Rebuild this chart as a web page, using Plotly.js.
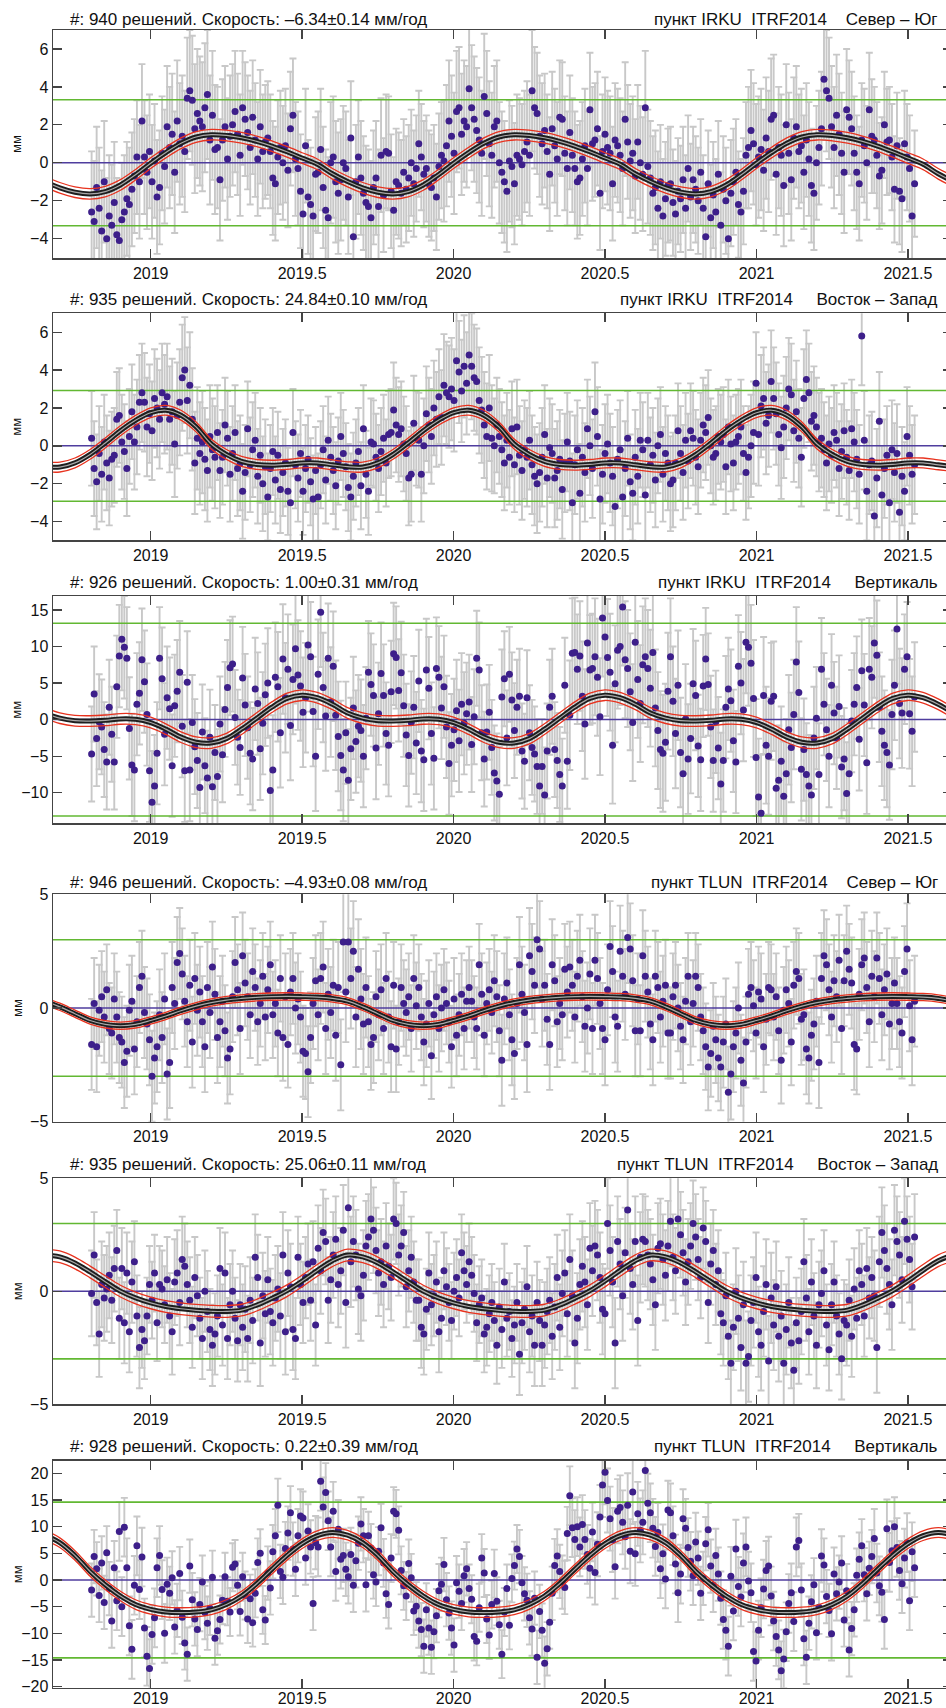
<!DOCTYPE html>
<html>
<head>
<meta charset="utf-8">
<script src="https://cdn.plot.ly/plotly-3.0.1.min.js"></script>
<style>
html,body{margin:0;padding:0;background:#fff;overflow:hidden;}
#chart{width:952px;height:1708px;}
</style>
</head>
<body>
<div id="chart"></div>
<script>
// ---------------- DATA ----------------
const yearTicks = [2019, 2019.5, 2020, 2020.5, 2021, 2021.5];
const yearTickText = ['2019', '2019.5', '2020', '2020.5', '2021', '2021.5'];

// observation epochs: first and last daily solution (decimal years); samples equally spaced
const obsStart = 2018.805, obsEnd = 2021.522;
// error arrays are per calendar month starting at this epoch
const errMonthStart = 2018.80;
// model curves sampled every 0.05 yr starting at
const modelStart = 2018.65, modelStep = 0.05;

const leftTitles = [
  '#: 940 решений. Скорость: –6.34±0.14 мм/год',
  '#: 935 решений. Скорость: 24.84±0.10 мм/год',
  '#: 926 решений. Скорость: 1.00±0.31 мм/год',
  '#: 946 решений. Скорость: –4.93±0.08 мм/год',
  '#: 935 решений. Скорость: 25.06±0.11 мм/год',
  '#: 928 решений. Скорость: 0.22±0.39 мм/год'
];
const rightTitles = [
  'пункт IRKU\u00A0\u00A0ITRF2014\u00A0\u00A0\u00A0 Север – Юг',
  'пункт IRKU\u00A0\u00A0ITRF2014\u00A0\u00A0\u00A0\u00A0 Восток – Запад',
  'пункт IRKU\u00A0\u00A0ITRF2014\u00A0\u00A0\u00A0\u00A0 Вертикаль',
  'пункт TLUN\u00A0\u00A0ITRF2014\u00A0\u00A0\u00A0 Север – Юг',
  'пункт TLUN\u00A0\u00A0ITRF2014\u00A0\u00A0\u00A0\u00A0 Восток – Запад',
  'пункт TLUN\u00A0\u00A0ITRF2014\u00A0\u00A0\u00A0\u00A0 Вертикаль'
];
const yUnit = 'мм';

// residuals, mm
const irkuNS = [
-2.6,-3.1,-1.3,-2.4,-3.6,-1.0,-4.0,-2.8,-3.3,-2.1,
-3.8,-4.1,-3.0,-2.6,-1.9,-2.2,-1.4,-0.7,0.3,-1.0,
2.2,0.3,-0.5,0.6,-1.0,0.1,-1.8,-1.3,0.5,-0.2,
1.9,0.8,1.5,-0.5,2.2,1.0,1.4,0.6,3.4,3.8,
3.3,1.8,2.6,2.2,1.9,2.9,3.6,1.2,2.5,0.7,
0.8,-0.9,1.2,1.9,0.2,1.4,2.0,2.7,1.5,0.4,
2.9,2.3,1.6,0.8,2.4,1.2,0.2,1.9,0.6,1.1,
1.3,0.6,-0.8,-1.1,0.3,0.8,0.0,0.9,-0.4,1.8,
2.5,0.2,-0.3,-1.5,-2.7,0.9,-1.8,-2.2,-2.8,-0.6,
-0.5,0.7,-1.3,-2.5,-2.9,0.0,0.3,-1.0,-1.6,-0.9,
0.0,-0.3,-1.8,1.3,-3.9,-1.0,0.3,-0.8,-1.6,-2.1,
-2.3,-2.9,-1.3,-0.8,-2.3,0.4,-1.7,0.6,0.5,-1.5,
-2.5,-1.0,-1.2,-1.6,-0.5,-1.4,-0.8,0.0,-1.1,-0.3,
1.0,0.3,-0.6,-0.3,-1.1,-1.3,-0.8,-1.8,-0.2,0.4,
0.1,0.9,2.2,1.4,0.5,2.7,2.9,1.5,2.2,1.9,
3.9,2.9,2.3,1.7,1.2,0.5,3.5,2.6,1.0,0.4,
1.9,2.2,0.0,-0.5,-1.0,-1.5,0.1,-0.2,-1.1,0.4,
0.2,-0.1,0.6,1.1,0.4,3.8,2.9,2.6,1.4,1.0,
1.7,0.6,-0.6,1.8,0.9,0.2,2.4,2.3,0.5,-0.3,
1.6,0.4,-0.3,-1.0,-0.8,0.2,0.9,-0.3,2.8,1.0,
1.2,1.8,-1.6,0.6,1.5,0.8,0.5,-1.1,1.2,0.9,
0.4,-0.3,2.3,1.1,0.1,0.5,-0.7,1.1,0.0,-0.6,
2.9,-0.2,-0.8,-1.6,-1.3,-2.4,-1.0,-2.8,-1.9,-1.2,
-1.1,-2.1,-2.7,-1.5,-1.9,-0.9,-2.4,-0.3,-1.8,-0.9,
-1.4,-2.0,-0.5,-2.4,-3.9,-1.1,-2.9,-1.7,-2.6,-0.6,
-3.3,-1.4,-2.0,-4.0,-1.6,-1.0,-0.5,-2.2,-2.6,-1.5,
0.4,0.8,1.7,1.0,-0.1,0.3,0.7,-0.4,1.3,0.6,
2.3,2.5,-0.6,0.8,0.4,-1.2,2.0,0.5,-0.9,1.3,
1.9,0.6,0.9,-0.5,1.2,0.2,-1.2,-1.6,0.0,0.8,
1.8,4.4,3.8,3.4,1.9,0.8,2.5,1.5,0.5,-0.5,
2.8,2.4,1.8,0.5,-0.5,-1.1,1.2,0.9,0.0,2.8,
1.4,1.2,0.4,-0.7,-0.4,2.0,1.1,1.2,0.3,-1.4,
0.9,-1.5,-1.9,1.0,0.3,-0.3,-2.8,-1.1];
const irkuEW = [
0.4,-1.2,-1.9,-0.4,-1.5,0.2,-0.9,-1.7,-0.7,-0.5,
1.4,1.6,0.2,-0.3,-1.2,0.5,1.8,0.2,1.0,2.3,
2.8,2.3,1.0,1.7,0.8,2.5,2.0,1.4,2.8,2.2,
2.6,1.4,1.8,0.1,1.6,2.3,3.6,4.0,2.4,3.2,
1.4,-0.9,0.4,-0.4,0.2,-0.7,-1.3,0.5,-0.2,-0.6,
0.7,-1.3,-0.6,1.1,0.4,-1.5,-0.4,0.7,-1.2,-0.9,
-2.4,-1.4,0.9,-1.0,-0.2,0.3,-1.6,-0.5,-2.0,-1.1,
-2.7,-1.2,-0.3,-1.8,-0.5,-2.3,-1.4,-0.9,-2.4,-3.0,
0.7,-1.0,-1.7,-0.4,-2.4,-1.2,-0.7,-1.9,-2.8,-1.3,
-2.7,-1.0,-0.2,-1.8,0.3,-0.6,-1.3,-2.1,-0.8,0.5,
-0.4,-1.1,-2.2,-2.7,-1.6,-0.9,-0.3,-2.1,0.9,-1.5,
-2.4,0.2,0.1,-0.6,-1.2,-0.3,0.4,-0.9,0.6,0.7,
1.9,1.1,0.6,0.9,0.1,-0.4,-1.7,-1.5,1.2,0.4,
0.3,-1.5,0.0,1.7,1.1,0.5,2.0,1.4,2.6,1.5,
3.2,2.8,2.6,3.0,2.4,4.5,3.9,2.9,4.2,3.3,
4.8,4.2,3.6,3.4,2.4,1.9,1.1,0.5,2.0,0.4,
0.0,1.1,0.5,-0.2,-0.9,0.3,-0.6,0.9,-1.0,1.0,
-0.5,-1.3,-0.2,-0.6,0.3,-1.0,-1.6,-2.0,-1.4,-0.6,
0.6,-1.7,-0.1,-0.4,-1.7,-1.3,-0.7,-2.3,-0.9,0.2,
-0.8,-3.0,-1.0,-0.2,-2.5,-0.6,-1.4,0.9,0.0,-1.2,
1.8,0.5,-2.8,-1.5,-0.4,0.1,-0.9,-1.6,-3.2,-0.7,
-0.2,-2.7,-1.2,0.4,-1.9,-2.5,-0.6,-1.6,0.3,-0.2,
-2.6,0.3,-1.0,-0.5,-1.8,0.0,0.6,-1.5,-0.4,-0.9,
-2.0,-1.8,-0.9,0.8,-0.4,-1.4,0.3,-0.8,0.8,0.4,
-0.6,-1.1,0.3,1.1,0.7,1.5,0.0,-0.6,-0.4,0.5,
0.2,0.6,-1.1,1.0,0.1,-0.9,0.2,0.5,1.0,-0.4,
-1.4,-0.6,0.0,0.7,3.3,0.6,2.1,2.5,1.2,1.6,
3.4,2.5,1.7,0.6,-0.1,1.0,2.0,3.0,2.7,0.8,
1.8,0.4,-0.6,2.5,3.5,2.8,1.3,1.6,1.0,0.2,
0.4,-0.2,-0.9,0.1,-0.5,0.7,0.3,-1.2,-0.3,0.8,
-0.6,-1.3,0.9,0.2,-0.7,-1.5,5.8,0.3,-2.4,-1.0,
-0.8,-3.7,-1.7,1.3,-2.6,-1.2,-0.5,-3.0,-0.2,-1.4,
-0.4,-3.5,-1.6,-2.4,0.5,-0.5,-1.5,-1.0];
const irkuUp = [
-4.7,3.5,-2.6,-0.3,-1.0,-4.1,-5.8,1.7,-2.0,-5.8,
4.5,8.7,11.0,9.9,8.4,-1.2,-6.2,-6.9,2.1,3.6,
8.2,5.2,0.7,-7.0,-11.3,-9.1,-4.6,8.4,5.6,-2.0,
3.0,1.5,-6.3,1.9,3.9,6.5,-0.9,-7.0,5.1,-6.9,
-0.4,-3.7,-5.6,-9.3,-1.7,-6.3,-8.0,-2.4,-9.2,-4.5,
-7.8,-0.6,-4.8,1.4,4.4,7.1,7.6,0.3,-2.4,-3.8,
5.7,2.0,-1.1,-4.6,-5.4,4.2,2.2,-4.0,-0.5,3.4,
5.0,-9.7,-6.9,5.8,4.5,-1.8,8.3,3.0,6.9,-0.8,
5.5,9.7,6.1,4.6,1.0,3.0,10.2,8.6,1.1,-5.0,
6.2,14.7,4.4,0.5,8.4,2.4,7.3,0.6,-2.3,-4.9,
-6.9,-1.8,-8.3,-4.0,1.6,-3.0,-0.9,-1.5,-5.0,0.2,
6.5,4.8,3.3,-3.9,0.8,6.3,3.3,-1.9,-3.5,3.8,
9.0,8.5,4.0,6.4,1.9,-2.1,-4.9,-0.4,1.7,-3.2,
5.3,-4.3,-5.5,6.8,4.3,-1.9,-5.3,7.0,5.8,1.6,
4.5,-1.0,-6.0,-3.5,-1.4,1.2,-2.9,2.1,-0.5,0.8,
2.4,-3.4,0.4,8.4,6.8,-1.8,-5.4,-1.7,1.0,-3.8,
-7.3,-8.4,-10.2,3.1,5.6,-2.5,6.2,2.7,-1.5,1.7,
3.2,-4.3,-5.7,3.0,-1.8,-3.8,-4.7,-6.4,-9.1,-6.4,
-10.3,-4.3,1.7,3.2,-4.1,-5.6,-7.5,-9.1,4.7,-5.7,
0.6,9.1,9.2,6.9,8.7,3.2,-0.6,10.5,6.8,7.0,
8.6,5.8,0.4,13.9,11.3,8.5,6.5,-3.5,4.9,9.5,
10.0,15.4,8.2,7.0,3.8,-0.4,10.6,5.5,2.2,7.5,
8.6,7.0,4.3,9.2,1.6,-1.5,-4.1,-4.6,-3.1,3.9,
8.6,2.5,-1.9,4.7,-4.5,-7.4,0.1,-5.4,-2.6,4.9,
3.3,-3.6,-5.5,4.6,8.3,4.8,-1.0,-5.6,-0.3,-3.9,
-8.8,-5.6,1.7,4.2,2.6,-2.9,-5.8,7.3,5.0,1.3,
10.6,9.9,7.7,2.9,-5.2,-10.6,-12.8,3.3,-3.5,-5.0,
2.5,3.2,-9.4,-8.3,-5.7,-10.5,-7.4,-1.4,-3.8,0.7,
7.9,3.7,-6.8,-4.1,-7.5,-9.1,-10.3,-2.5,0.2,-7.5,
6.9,2.1,-1.4,-5.0,4.7,0.9,-2.5,1.8,-6.5,-5.4,
-10.1,-7.4,-0.2,2.1,4.4,-2.7,6.7,2.0,-5.9,6.9,
5.8,10.5,8.8,1.7,-1.6,-3.5,-4.5,-6.2,0.7,4.7,
12.4,2.2,0.9,6.9,8.6,0.8,-1.6,3.1];
const tlunNS = [
-1.6,0.2,-1.7,-0.1,0.5,-0.4,0.8,-0.9,-1.1,0.4,
-0.4,-1.3,-1.5,-2.4,-1.9,-0.1,0.3,-1.8,-0.6,0.9,
1.4,-0.2,-0.7,-1.4,-3.0,-2.2,-1.7,-0.3,-1.3,0.4,
-2.9,-2.4,0.9,0.2,2.0,2.4,1.5,0.3,-0.6,1.0,
-1.5,1.3,-0.1,0.7,-0.6,-1.7,0.9,-0.2,1.8,0.6,
-1.3,-0.6,0.3,-1.0,-2.2,-1.8,0.5,2.0,0.8,-0.9,
2.3,1.1,0.5,-0.3,1.6,0.9,-0.6,0.2,1.4,-0.4,
0.8,1.9,-0.3,0.2,-1.1,1.3,-1.3,0.5,-1.6,0.7,
1.3,0.0,0.4,-0.4,-1.9,-2.0,-2.8,-1.3,0.2,1.2,
-0.3,1.3,1.8,-0.9,0.6,-0.2,1.0,-1.2,0.9,-2.5,
2.9,0.7,2.9,1.3,2.5,-0.4,1.7,0.4,-0.7,0.9,
-0.6,-1.6,-1.3,0.5,-0.3,0.8,-0.9,1.3,-0.4,-1.7,
1.0,-1.8,-0.6,0.9,0.2,-0.2,0.5,-0.9,1.3,0.1,
0.9,-0.4,-1.5,-0.7,0.2,-2.1,-0.3,0.5,-0.9,0.0,
0.8,0.2,-0.6,-1.7,0.4,-1.2,-0.3,0.6,-0.9,0.3,
0.9,0.3,-0.4,-0.9,1.9,0.6,-1.2,0.2,0.8,-0.2,
1.2,0.5,-1.0,-2.3,0.4,1.1,-0.3,-1.4,-2.0,0.2,
1.9,0.6,-0.2,-1.6,2.3,1.6,1.0,3.0,2.6,0.4,
1.0,-0.5,-1.6,1.9,1.2,-0.6,0.2,-0.3,1.7,0.7,
1.8,1.0,-0.4,1.4,2.1,0.5,-0.8,0.0,1.5,-0.9,
2.1,1.3,0.2,-0.9,-1.4,0.8,2.7,1.6,-0.4,-0.8,
2.5,1.4,0.6,3.1,2.6,1.2,-1.0,0.4,-1.0,2.3,
1.4,0.7,-0.7,-1.4,1.4,0.9,-0.4,0.3,1.0,-1.1,
-1.1,0.5,1.0,0.0,-0.8,-1.4,0.3,1.4,-0.6,0.2,
1.4,0.9,-0.4,-1.0,-1.7,-2.6,-2.0,-0.8,-1.4,-2.2,
-2.6,-1.5,-0.7,-3.7,-2.9,-1.7,-1.1,0.0,-2.3,-3.3,
-1.5,0.6,0.9,0.1,-1.1,0.7,0.4,-1.7,-0.5,0.9,
0.8,-0.4,0.5,-1.0,-2.3,-0.1,0.8,0.2,-1.5,1.0,
1.6,1.3,-0.5,-0.3,-1.8,-2.2,-1.2,-0.7,0.3,-2.4,
1.3,2.3,1.9,0.8,-0.4,1.2,0.5,2.1,-0.9,1.2,
2.5,1.7,1.1,-1.6,-1.8,0.6,1.9,2.2,0.9,-0.6,
1.4,0.5,2.2,1.3,-0.3,0.8,1.5,-0.7,0.2,1.1,
0.2,-0.6,-1.1,1.6,2.6,0.1,-1.4,0.3];
const tlunEW = [
-0.1,1.6,-0.5,-1.9,0.3,-0.3,0.1,0.7,-0.4,1.0,
1.8,-1.2,1.0,-1.4,0.8,-1.8,0.4,1.3,-1.1,-2.5,
-1.7,-2.2,-1.1,0.3,-0.4,0.8,-1.4,0.3,0.1,-0.6,
0.5,-1.1,-1.8,0.4,0.8,-0.5,1.4,1.1,0.3,-0.4,
-1.6,0.6,-0.2,-1.2,-2.1,0.0,-0.9,-1.7,-2.4,-1.9,
-1.1,1.0,-1.5,0.8,-2.1,-0.6,0.0,-1.2,-2.2,-0.6,
-1.6,-0.8,-2.1,-0.4,-1.3,1.5,0.6,-2.3,-0.2,-1.0,
0.5,-0.9,-1.4,-0.3,0.1,-1.1,1.6,-1.8,0.8,0.2,
-1.7,-2.1,1.5,0.3,-0.5,0.6,1.2,-0.4,1.3,-1.5,
1.9,0.9,2.6,2.2,-0.4,0.5,1.6,2.3,0.3,0.9,
2.7,-0.5,3.7,1.3,2.2,1.6,0.1,-0.2,0.7,2.0,
2.4,3.2,2.7,1.8,0.8,1.3,0.3,2.0,1.1,0.6,
3.2,3.0,1.6,2.0,2.6,0.2,0.9,1.5,0.4,-0.4,
-0.4,-1.6,-1.9,-0.8,0.8,-0.6,-0.2,0.4,-1.8,-1.2,
0.9,0.2,-0.5,-1.3,0.0,0.6,-0.3,1.7,0.9,0.3,
1.3,0.7,-0.1,-1.4,-0.6,-0.3,-1.9,-1.6,-1.0,-0.5,
-1.3,-2.4,-0.7,-1.7,0.4,-1.2,-0.9,-2.1,-1.5,-0.5,
-2.8,-1.4,-0.8,0.2,-1.8,-1.1,-2.4,-0.5,-1.3,-2.4,
-1.5,-0.9,-0.4,-2.0,-0.7,0.6,-1.6,-0.1,0.8,-1.0,
1.4,-0.2,-2.3,-1.2,0.3,1.1,0.4,-0.6,1.9,0.9,
2.0,1.6,0.6,-0.8,-1.0,3.0,1.8,0.4,-2.3,2.2,
1.2,-0.2,1.7,3.6,1.0,0.3,2.2,-1.3,1.5,2.3,
2.2,1.6,1.2,0.5,-0.6,1.9,2.1,1.4,0.7,2.0,
3.1,1.5,0.9,3.2,2.5,1.7,0.4,1.3,2.0,3.0,
2.4,1.4,0.6,2.8,2.2,-0.5,1.2,1.8,0.3,0.9,
-1.0,-1.4,-0.2,-2.0,-3.2,-1.6,0.0,-1.2,-2.5,-0.6,
-3.2,-2.9,-1.3,-0.5,0.6,-1.8,-2.4,-0.9,0.3,-3.1,
-0.3,-1.5,0.2,-2.0,-1.1,-3.2,-1.7,-0.5,-2.3,-3.5,
-1.4,-2.2,-0.9,1.3,-0.3,-1.8,0.4,-1.1,-2.4,-0.6,
-0.1,0.9,-1.5,-2.6,-0.6,0.4,-1.1,-1.9,-3.0,-1.3,
-1.5,-0.4,-2.0,0.1,-1.2,0.9,0.3,-1.1,1.0,-0.3,
0.6,-0.2,-2.5,1.3,2.6,1.8,1.0,0.3,-0.6,2.7,
2.2,1.6,0.5,3.1,2.3,1.4,0.2,2.4];
const tlunUp = [
-1.9,4.4,2.1,-2.9,3.2,-4.2,5.1,-1.6,-7.7,2.3,
-3.9,9.1,-5.0,9.9,2.3,-8.6,-13.0,-1.0,6.4,-1.8,
4.3,-9.0,-14.3,-16.6,-10.2,-7.1,2.3,4.6,-1.8,-10.0,
-0.8,-2.5,0.4,-8.8,-5.7,1.2,-7.0,-11.8,-13.9,2.6,
-3.7,-7.3,-9.3,-4.6,-0.4,-6.1,-8.1,-5.3,0.5,-10.9,
-9.5,-7.4,-3.8,0.6,-4.0,-6.0,2.4,3.0,-1.0,-5.9,
0.6,-2.9,-7.3,-3.5,-8.0,-2.5,3.3,5.0,-5.6,-7.5,
1.3,-1.5,5.3,8.3,14.0,1.6,0.5,5.9,8.8,12.6,
5.8,2.0,8.3,12.0,11.6,4.1,9.2,6.2,-4.4,7.0,
6.2,18.5,13.7,16.4,11.1,6.2,12.9,1.6,9.5,3.9,
4.6,2.0,0.6,4.8,-1.0,3.6,6.9,10.5,8.3,-0.9,
8.3,6.0,1.0,-0.4,5.4,9.8,3.2,-2.6,-4.6,4.1,
12.9,12.4,9.3,1.8,-1.1,-3.0,3.1,0.4,-5.8,-4.9,
-7.7,-9.3,-12.4,-5.6,-9.0,-12.6,-9.7,-6.7,-2.0,-0.8,
2.9,-3.7,-6.2,-9.0,-12.2,-0.5,-2.1,-4.4,0.8,2.1,
-1.6,-3.6,-10.6,-11.5,-5.2,4.1,1.3,-7.3,-10.3,-4.6,
1.2,-4.0,-8.4,-13.9,-6.0,-1.6,-8.5,0.3,2.7,5.8,
4.4,-0.5,-2.6,-3.8,-7.1,-9.2,-3.4,-14.5,-5.9,-9.4,
-15.6,-12.9,-7.9,-2.5,2.7,4.5,1.6,-0.4,-1.4,8.7,
15.8,9.8,7.6,10.0,6.2,10.4,7.6,4.8,2.2,9.0,
1.4,6.7,11.8,17.8,20.2,14.9,11.5,7.5,2.5,12.9,
13.6,10.8,8.1,14.0,5.4,16.5,4.9,12.4,9.3,10.8,
20.5,14.4,12.6,9.7,6.3,8.9,2.1,4.9,0.2,13.1,
12.6,8.3,3.0,-2.4,1.1,11.5,9.7,6.1,3.5,0.8,
7.1,4.1,-2.5,0.3,6.8,9.4,2.6,-1.0,4.6,1.1,
-3.4,-7.4,-9.4,-12.4,0.7,-5.8,5.8,-1.2,-3.2,3.2,
6.2,-0.2,-2.4,-13.4,-15.2,-9.4,-5.2,-1.7,1.8,2.6,
-3.0,-7.7,-10.6,-13.1,-17.0,-14.8,-9.7,-4.4,-2.4,-7.8,
6.2,7.4,-1.9,-11.0,-14.5,-8.1,-4.1,-0.9,-9.9,-5.1,
4.5,2.8,-3.1,-5.7,-10.1,1.1,-2.6,-0.4,3.2,-7.5,
-2.0,-13.1,-9.1,-5.6,0.9,3.9,6.4,1.0,-2.6,2.2,
4.4,7.8,1.3,-1.1,-2.3,-7.4,9.6,3.3,5.5,10.0,
6.1,1.8,-0.7,4.1,7.0,-3.9,5.3,2.3];

// error-bar half lengths, mm, per month (from 2018.80)
const irkuNSErr = [3.2,3.0,3.0,3.2,3.4,3.2,3.0,3.0,3.0,3.2,3.0,3.0,2.8,2.8,3.2,3.3,3.2,3.2,3.0,3.0,3.0,3.0,3.0,2.8,2.8,2.8,3.2,3.2,3.0,3.2,3.0,2.8,2.8];
const irkuEWErr = [2.5,2.5,2.6,2.8,2.7,2.5,2.5,2.3,2.3,2.3,2.3,2.3,2.5,2.5,2.7,2.8,2.5,2.6,2.6,2.6,2.6,2.5,2.5,2.5,2.5,2.5,2.7,2.7,2.6,2.5,2.6,2.6,2.6];
const irkuUpErr = [6.5,7,7,7,6.5,6.5,7,7.5,7.5,7.5,7,7,7,7,7,6.5,6.5,6.5,6.5,7.5,8,8,8,7.5,7,7,8,7.5,7,7,7,7.5,7.5];
const tlunNSErr = [2.0,2.0,2.0,2.0,2.0,2.0,1.9,1.9,2.0,2.0,2.2,2.0,1.9,1.9,1.8,1.8,2.0,2.1,2.0,2.0,2.0,2.0,2.0,1.9,1.9,2.0,2.0,1.9,2.0,2.0,2.0,2.0,2.0];
const tlunEWErr = [1.9,1.8,1.7,1.9,1.8,1.8,1.9,1.9,1.8,1.9,2.0,1.9,1.8,1.8,1.7,1.7,1.7,1.8,1.9,2.0,2.0,2.0,2.0,1.9,1.8,1.9,2.0,2.0,1.9,1.8,1.8,2.0,1.9];
const tlunUpErr = [5,5.5,5.5,5,5,4.5,4.5,5,5,5.5,5,4.5,4.5,5,5,4.5,4.5,5,5,5.5,6,6,5.5,5.5,5,5.5,5.5,5.5,5,5,5,5.5,5.5];

// seasonal model curves, mm (every 0.05 yr from 2018.65 to 2021.65)
const irkuNSModel = [
-0.99,-1.32,-1.55,-1.64,-1.52,-1.17,-0.63,
-0.02,0.54,1.03,1.36,1.48,1.44,1.32,1.13,0.88,0.58,0.25,-0.08,-0.58,-0.99,-1.32,-1.55,-1.64,-1.52,-1.17,-0.63,
-0.02,0.54,1.03,1.36,1.48,1.44,1.32,1.13,0.88,0.58,0.25,-0.08,-0.58,-0.99,-1.32,-1.55,-1.64,-1.52,-1.17,-0.63,
-0.02,0.54,1.03,1.36,1.48,1.44,1.32,1.13,0.88,0.58,0.25,-0.08,-0.58,-0.99];
const irkuEWModel = [
-1.1,-1.12,-0.9,-0.45,0.15,0.8,1.35,
1.75,1.88,1.62,1.0,0.1,-0.45,-0.82,-0.98,-1.02,-0.98,-0.9,-0.9,-1.0,-1.1,-1.12,-0.9,-0.45,0.15,0.8,1.35,
1.75,1.88,1.62,1.0,0.1,-0.45,-0.82,-0.98,-1.02,-0.98,-0.9,-0.9,-1.0,-1.1,-1.12,-0.9,-0.45,0.15,0.8,1.35,
1.75,1.88,1.62,1.0,0.1,-0.45,-0.82,-0.98,-1.02,-0.98,-0.9,-0.9,-1.0,-1.1];
const irkuUpModel = [
0.9,0.2,-0.15,-0.2,-0.1,0.1,0.05,
-0.4,-1.3,-2.4,-3.1,-3.2,-2.6,-1.3,0.2,1.7,2.9,3.35,3.0,2.1,0.9,0.2,-0.15,-0.2,-0.1,0.1,0.05,
-0.4,-1.3,-2.4,-3.1,-3.2,-2.6,-1.3,0.2,1.7,2.9,3.35,3.0,2.1,0.9,0.2,-0.15,-0.2,-0.1,0.1,0.05,
-0.4,-1.3,-2.4,-3.1,-3.2,-2.6,-1.3,0.2,1.7,2.9,3.35,3.0,2.1,0.9];
const tlunNSModel = [
0.3,0.05,-0.25,-0.55,-0.72,-0.78,-0.72,
-0.55,-0.35,-0.12,0.08,0.24,0.35,0.42,0.47,0.5,0.51,0.5,0.48,0.42,0.3,0.05,-0.25,-0.55,-0.72,-0.78,-0.72,
-0.55,-0.35,-0.12,0.08,0.24,0.35,0.42,0.47,0.5,0.51,0.5,0.48,0.42,0.3,0.05,-0.25,-0.55,-0.72,-0.78,-0.72,
-0.55,-0.35,-0.12,0.08,0.24,0.35,0.42,0.47,0.5,0.51,0.5,0.48,0.42,0.3];
const tlunEWModel = [
1.6,1.52,1.25,0.85,0.42,0.0,-0.3,
-0.52,-0.68,-0.78,-0.85,-0.89,-0.9,-0.84,-0.62,-0.32,0.02,0.45,0.92,1.35,1.6,1.52,1.25,0.85,0.42,0.0,-0.3,
-0.52,-0.68,-0.78,-0.85,-0.89,-0.9,-0.84,-0.62,-0.32,0.02,0.45,0.92,1.35,1.6,1.52,1.25,0.85,0.42,0.0,-0.3,
-0.52,-0.68,-0.78,-0.85,-0.89,-0.9,-0.84,-0.62,-0.32,0.02,0.45,0.92,1.35,1.6];
const tlunUpModel = [
8.4,7.0,4.6,1.6,-0.9,-3.0,-4.6,
-5.5,-6.0,-6.1,-6.0,-5.6,-4.6,-3.0,-0.7,2.0,4.6,6.8,8.3,8.9,8.4,7.0,4.6,1.6,-0.9,-3.0,-4.6,
-5.5,-6.0,-6.1,-6.0,-5.6,-4.6,-3.0,-0.7,2.0,4.6,6.8,8.3,8.9,8.4,7.0,4.6,1.6,-0.9,-3.0,-4.6,
-5.5,-6.0,-6.1,-6.0,-5.6,-4.6,-3.0,-0.7,2.0,4.6,6.8,8.3,8.9,8.4];

// half width of model confidence band (mm) and outlier threshold level (mm)
const modelBand = [0.28, 0.26, 0.73, 0.16, 0.26, 0.9];
const outlierLevel = [3.32, 2.92, 13.2, 3.0, 3.0, 14.6];

const seriesY = [irkuNS, irkuEW, irkuUp, tlunNS, tlunEW, tlunUp];
const seriesErr = [irkuNSErr, irkuEWErr, irkuUpErr, tlunNSErr, tlunEWErr, tlunUpErr];
const seriesModel = [irkuNSModel, irkuEWModel, irkuUpModel, tlunNSModel, tlunEWModel, tlunUpModel];
const yTickSets = [[-4,-2,0,2,4,6],[-4,-2,0,2,4,6],[-10,-5,0,5,10,15],[-5,0,5],[-5,0,5],[-20,-15,-10,-5,0,5,10,15,20]];

// ---------------- LAYOUT GEOMETRY ----------------
const W = 952, H = 1708;
const plotLeft = 53, plotRight = 952;
const xRange = [2018.6775, 2021.6455];
const yRanges = [[-5.02, 7.0], [-4.97, 7.0], [-14.19, 16.92], [-5, 5], [-5, 5], [-20.19, 22.36]];
const panelTop = [30, 313.3, 596, 894.3, 1178.3, 1460.7];
const panelBottom = [258, 540, 823.3, 1121.7, 1404, 1687.7];
const titleCenter = [19.5, 299.8, 582.5, 883, 1164.8, 1446.5];
const xLabelShift = [0, 0, 0, 0, 0, -4];

const C_POINT = '#3d1f8a', C_ERR = '#c8c8c8', C_GREEN = '#62b832', C_ZERO = '#4f3d9e',
      C_RED = '#e8321e', C_AXIS = '#444', FONT = 'Liberation Sans, Arial, Helvetica, sans-serif';

const traces = [];
const layout = {
  width: W, height: H, autosize: false,
  margin: {l: 0, r: 0, t: 0, b: 0, pad: 0},
  paper_bgcolor: '#fff', plot_bgcolor: '#fff',
  showlegend: false,
  font: {family: FONT, size: 16, color: '#111'},
  annotations: []
};

for (let p = 0; p < 6; p++) {
  const ys = seriesY[p];
  const n = ys.length;
  const xs = ys.map((_, i) => obsStart + i * (obsEnd - obsStart) / (n - 1));
  const errs = xs.map(x => {
    const m = Math.min(seriesErr[p].length - 1, Math.max(0, Math.floor((x - errMonthStart) * 12)));
    return seriesErr[p][m];
  });
  const model = seriesModel[p];
  const mx = model.map((_, i) => modelStart + i * modelStep);
  const up = model.map(v => v + modelBand[p]);
  const lo = model.map(v => v - modelBand[p]);
  const ax = p === 0 ? '' : String(p + 1);
  const xa = 'x' + ax, ya = 'y' + ax;
  const lvl = outlierLevel[p];

  // error bars (behind everything)
  traces.push({x: xs, y: ys, xaxis: xa, yaxis: ya, type: 'scatter', mode: 'markers',
    marker: {size: 2, color: 'rgba(0,0,0,0)'}, hoverinfo: 'skip',
    error_y: {type: 'data', array: errs, visible: true, color: C_ERR, thickness: 1.9, width: 3.5}});
  // threshold + zero lines
  traces.push({x: xRange, y: [lvl, lvl], xaxis: xa, yaxis: ya, mode: 'lines', line: {color: C_GREEN, width: 1.6}, hoverinfo: 'skip'});
  traces.push({x: xRange, y: [-lvl, -lvl], xaxis: xa, yaxis: ya, mode: 'lines', line: {color: C_GREEN, width: 1.6}, hoverinfo: 'skip'});
  traces.push({x: xRange, y: [0, 0], xaxis: xa, yaxis: ya, mode: 'lines', line: {color: C_ZERO, width: 1.5}, hoverinfo: 'skip'});
  // points
  traces.push({x: xs, y: ys, xaxis: xa, yaxis: ya, type: 'scatter', mode: 'markers',
    marker: {size: 7, color: C_POINT}, hoverinfo: 'skip'});
  // model curve
  traces.push({x: mx, y: model, xaxis: xa, yaxis: ya, mode: 'lines', line: {color: '#1e1e1e', width: 5, shape: 'spline', smoothing: 1}, hoverinfo: 'skip'});
  traces.push({x: mx, y: model, xaxis: xa, yaxis: ya, mode: 'lines', line: {color: '#a8a8a8', width: 1.2, shape: 'spline', smoothing: 1}, hoverinfo: 'skip'});
  traces.push({x: mx, y: up, xaxis: xa, yaxis: ya, mode: 'lines', line: {color: C_RED, width: 1.3, shape: 'spline', smoothing: 1}, hoverinfo: 'skip'});
  traces.push({x: mx, y: lo, xaxis: xa, yaxis: ya, mode: 'lines', line: {color: C_RED, width: 1.3, shape: 'spline', smoothing: 1}, hoverinfo: 'skip'});

  const common = {
    showgrid: false, zeroline: false, showline: true, linecolor: C_AXIS, linewidth: 1.5,
    mirror: 'ticks', ticks: 'inside', ticklen: 9, tickwidth: 1.3, tickcolor: C_AXIS,
    tickfont: {family: FONT, size: 16, color: '#111'}, fixedrange: true
  };
  layout['xaxis' + ax] = Object.assign({}, common, {
    domain: [plotLeft / W, plotRight / W], range: xRange, anchor: ya,
    tickmode: 'array', tickvals: yearTicks, ticktext: yearTickText,
    ticklabelstandoff: xLabelShift[p]
  });
  layout['yaxis' + ax] = Object.assign({}, common, {
    domain: [1 - panelBottom[p] / H, 1 - panelTop[p] / H], range: yRanges[p], anchor: xa,
    tickmode: 'array', tickvals: yTickSets[p]
  });

  layout.annotations.push({xref: 'paper', yref: 'paper', x: 67.5 / W, y: 1 - titleCenter[p] / H,
    xanchor: 'left', yanchor: 'middle', showarrow: false, text: leftTitles[p],
    font: {family: FONT, size: 17, color: '#111'}});
  layout.annotations.push({xref: 'paper', yref: 'paper', x: 940 / W, y: 1 - titleCenter[p] / H,
    xanchor: 'right', yanchor: 'middle', showarrow: false, text: rightTitles[p],
    font: {family: FONT, size: 17, color: '#111'}});
  layout.annotations.push({xref: 'paper', yref: 'paper', x: 17 / W,
    y: 1 - (panelTop[p] + panelBottom[p]) / 2 / H, xanchor: 'center', yanchor: 'middle',
    showarrow: false, textangle: -90, text: yUnit, font: {family: FONT, size: 13, color: '#111'}});
}

Plotly.newPlot('chart', traces, layout, {staticPlot: true, displayModeBar: false});
</script>
</body>
</html>
